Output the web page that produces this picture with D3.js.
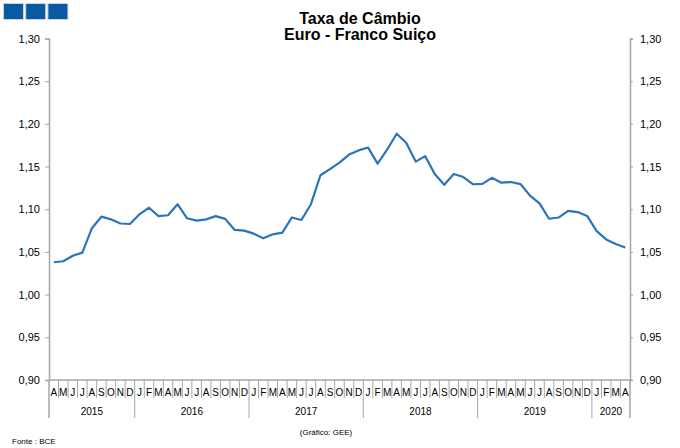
<!DOCTYPE html>
<html>
<head>
<meta charset="utf-8">
<script src="https://cdn.jsdelivr.net/npm/d3@7/dist/d3.min.js"></script>
<style>
  body { margin: 0; background: #fff; }
  svg { display: block; font-family: "Liberation Sans", Arial, sans-serif; }
</style>
</head>
<body>
<svg id="chart" width="680" height="448"></svg>
<script>
// ---- data ----
const monthLetters = ["J","F","M","A","M","J","J","A","S","O","N","D"];
const startYear = 2015, startMonth = 3; // April 2015 (0-based month)
const years = [2015, 2016, 2017, 2018, 2019, 2020];
const rates = [
  1.0379, 1.0391, 1.0455, 1.0492, 1.0777, 1.0913, 1.0882, 1.0833, 1.0827,
  1.0941, 1.1018, 1.0920, 1.0930, 1.1059, 1.0894, 1.0867, 1.0881, 1.0919, 1.0887, 1.0758, 1.0750,
  1.0714, 1.0660, 1.0706, 1.0727, 1.0904, 1.0874, 1.1059, 1.1398, 1.1470, 1.1546, 1.1640, 1.1689,
  1.1723, 1.1535, 1.1697, 1.1884, 1.1779, 1.1558, 1.1622, 1.1413, 1.1286, 1.1413, 1.1377, 1.1293,
  1.1297, 1.1368, 1.1311, 1.1319, 1.1295, 1.1160, 1.1069, 1.0889, 1.0903, 1.0981, 1.0967, 1.0922,
  1.0743, 1.0647, 1.0594, 1.0551
];
const yTicks = [0.90, 0.95, 1.00, 1.05, 1.10, 1.15, 1.20, 1.25, 1.30];
const titleLines = ["Taxa de Câmbio", "Euro - Franco Suiço"];

(function () {
// ---- derived ----
const months = rates.map((v, i) => {
  const m = (startMonth + i) % 12;
  const y = startYear + Math.floor((startMonth + i) / 12);
  return { i, m, y, v };
});

const svg = d3.select("#chart");
const pL = 49, pR = 630, pT = 38.5, pB = 380;

const x = d3.scaleBand().domain(months.map(d => d.i)).range([pL, pR]).padding(0);
const y = d3.scaleLinear().domain([0.90, 1.30]).range([pB, pT]);
const fmt = d => d3.format(".2f")(d).replace(".", ",");
const gray = "#a6a6a6";

// logo squares
const logo = [0, 1, 2];
svg.selectAll("rect.logo").data(logo).enter().append("rect")
  .attr("x", d => 3.5 + d * 22.2).attr("y", 3.5)
  .attr("width", 20).attr("height", 16)
  .attr("fill", "#0a5aa3").attr("stroke", "#c8d3de").attr("stroke-width", 1);

// title
svg.selectAll("text.title").data(titleLines).enter().append("text")
  .attr("x", 360).attr("y", (d, i) => 23.5 + i * 16.5)
  .attr("text-anchor", "middle").attr("font-weight", "bold").attr("font-size", 16)
  .attr("fill", "#000").text(d => d);

// axes
const yLeft = d3.axisLeft(y).tickValues(yTicks).tickFormat(fmt).tickSize(4).tickPadding(5);
const yRight = d3.axisRight(y).tickValues(yTicks).tickFormat(fmt).tickSize(3).tickPadding(7);
const gl = svg.append("g").attr("transform", `translate(${pL},0)`).call(yLeft);
const gr = svg.append("g").attr("transform", `translate(${pR},0)`).call(yRight);
[gl, gr].forEach(g => {
  g.select(".domain").attr("stroke", gray).attr("stroke-width", 1.5);
  g.selectAll(".tick line").attr("stroke", gray);
  g.selectAll(".tick text").attr("font-size", 11).attr("fill", "#000")
    .attr("font-family", "'Liberation Sans', Arial, sans-serif");
});

// bottom axis line
svg.append("line").attr("x1", pL).attr("x2", pR).attr("y1", pB).attr("y2", pB)
  .attr("stroke", gray).attr("stroke-width", 1.5);

// month separators
svg.selectAll("line.msep").data(months.slice(1)).enter().append("line")
  .attr("x1", d => x(d.i)).attr("x2", d => x(d.i))
  .attr("y1", pB).attr("y2", d => d.m === 0 ? 418 : 398)
  .attr("stroke", gray).attr("stroke-width", 1);
// outer separators
svg.selectAll("line.osep").data([pL, pR]).enter().append("line")
  .attr("x1", d => d).attr("x2", d => d).attr("y1", pB).attr("y2", 418)
  .attr("stroke", gray).attr("stroke-width", 1.5);

// month labels
svg.selectAll("text.mlab").data(months).enter().append("text")
  .attr("x", d => x(d.i) + x.bandwidth() / 2).attr("y", 396)
  .attr("text-anchor", "middle").attr("font-size", 10).attr("fill", "#000")
  .text(d => monthLetters[d.m]);

// year labels
svg.selectAll("text.ylab").data(years).enter().append("text")
  .attr("x", yr => {
    const ms = months.filter(d => d.y === yr);
    const a = x(ms[0].i), b = x(ms[ms.length - 1].i) + x.bandwidth();
    return (a + b) / 2;
  })
  .attr("y", 415).attr("text-anchor", "middle").attr("font-size", 10).attr("fill", "#000")
  .text(d => d);

// line
const line = d3.line().x(d => x(d.i) + x.bandwidth() / 2).y(d => y(d.v));
svg.append("path").datum(months).attr("d", line)
  .attr("fill", "none").attr("stroke", "#2a74bb").attr("stroke-width", 2.2)
  .attr("stroke-linejoin", "round");

// footer
svg.append("text").attr("x", 326).attr("y", 435).attr("text-anchor", "middle")
  .attr("font-size", 8).attr("fill", "#000").text("(Gráfico:  GEE)");
svg.append("text").attr("x", 12).attr("y", 444).attr("font-size", 8).attr("fill", "#000")
  .text("Fonte : BCE");
})();
</script>
</body>
</html>
